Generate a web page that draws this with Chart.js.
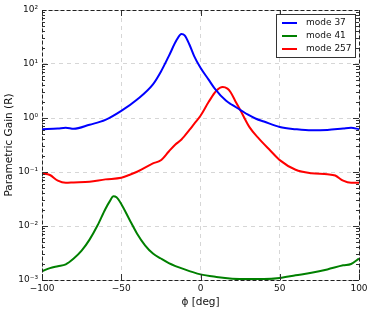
<!DOCTYPE html>
<html>
<head>
<meta charset="utf-8">
<script src="https://cdn.jsdelivr.net/npm/chart.js@4"></script>
<style>
  html, body { margin: 0; padding: 0; background: #fff; }
  #wrap { width: 374px; height: 314px; }
</style>
</head>
<body>
<div id="wrap"><canvas id="gain-chart" width="374" height="314"></canvas></div>
<script>
// valores
const seriesLabels = ['mode 37', 'mode 41', 'mode 257'];
const seriesColors = ['#0000ff', '#008000', '#ff0000'];

const angles37 = [-100, -90, -85, -80, -70, -60, -50, -40, -30, -25, -20, -15, -12, -10, -7, -4, 0, 5, 9, 16, 20, 25, 30, 35, 40, 50, 60, 70, 80, 90, 95, 100];
const gain37 = [0.62, 0.64, 0.66, 0.63, 0.75, 0.92, 1.35, 2.2, 4.2, 7.2, 14, 28, 36, 34, 23, 14, 8.5, 5.2, 3.5, 2.1, 1.75, 1.42, 1.15, 0.97, 0.86, 0.68, 0.62, 0.59, 0.60, 0.64, 0.66, 0.62];

const angles41 = [-100, -95, -90, -85, -80, -75, -70, -65, -60, -57, -55, -53, -50, -45, -40, -35, -30, -25, -20, -10, 0, 10, 20, 30, 40, 50, 60, 70, 80, 90, 95, 100];
const gain41 = [0.00145, 0.00166, 0.0018, 0.00195, 0.0025, 0.0035, 0.0056, 0.0102, 0.0207, 0.0295, 0.0355, 0.034, 0.0256, 0.0135, 0.0072, 0.0044, 0.0031, 0.0025, 0.00206, 0.00157, 0.00127, 0.00114, 0.00106, 0.00104, 0.00104, 0.00109, 0.00122, 0.00136, 0.00157, 0.00187, 0.00198, 0.0025];

const angles257 = [-100, -95, -90, -85, -80, -70, -60, -50, -45, -40, -30, -25, -20, -16, -12, -7, -4, 0, 5, 10, 14, 17, 19, 22, 25, 31, 37, 44, 50, 60, 70, 80, 85, 90, 95, 100];
const gain257 = [0.094, 0.088, 0.069, 0.063, 0.064, 0.066, 0.073, 0.078, 0.088, 0.101, 0.144, 0.165, 0.24, 0.32, 0.40, 0.60, 0.78, 1.1, 1.95, 3.2, 3.76, 3.5, 3.0, 2.05, 1.42, 0.67, 0.41, 0.25, 0.166, 0.110, 0.095, 0.091, 0.086, 0.069, 0.063, 0.063];

const xTicks = [-100, -50, 0, 50, 100];
const xTickLabels = ['\u2212100', '\u221250', '0', '50', '100'];
const yTicks = [1e-3, 1e-2, 1e-1, 1, 10, 100];
const yTickLabels = ['10\u207b\u00b3', '10\u207b\u00b2', '10\u207b\u00b9', '10\u2070', '10\u00b9', '10\u00b2'];

const toPoints = (xs, ys) => xs.map((x, i) => ({ x: x, y: ys[i] }));

// marco discontinuo, marcas interiores y leyenda con caja
const framePlugin = {
  id: 'frame',
  afterDatasetsDraw(chart) {
    const ctx = chart.ctx;
    const a = chart.chartArea;
    const ys = chart.scales.y;
    const xs = chart.scales.x;
    ctx.save();
    ctx.strokeStyle = '#333';
    ctx.lineWidth = 1;
    // marcas menores
    for (let d = -3; d < 2; d++) {
      for (let k = 1; k <= 9; k++) {
        const py = Math.round(ys.getPixelForValue(k * Math.pow(10, d))) + 0.5;
        const len = k === 1 ? 6 : 3;
        ctx.beginPath();
        ctx.moveTo(a.left, py); ctx.lineTo(a.left + len, py);
        ctx.moveTo(a.right, py); ctx.lineTo(a.right - len, py);
        ctx.stroke();
      }
    }
    xTicks.forEach(v => {
      const px = Math.round(xs.getPixelForValue(v)) + 0.5;
      ctx.beginPath();
      ctx.moveTo(px, a.bottom); ctx.lineTo(px, a.bottom - 6);
      ctx.moveTo(px, a.top); ctx.lineTo(px, a.top + 6);
      ctx.stroke();
    });
    ctx.setLineDash([4, 2]);
    ctx.strokeStyle = '#222';
    ctx.strokeRect(Math.round(a.left) + 0.5, Math.round(a.top) + 0.5,
      Math.round(a.right - a.left), Math.round(a.bottom - a.top));
    ctx.setLineDash([]);

    // leyenda
    const bx = a.right - 83, by = a.top + 4, bw = 79, bh = 43;
    ctx.fillStyle = '#fff';
    ctx.fillRect(bx, by, bw, bh);
    ctx.strokeStyle = '#333';
    ctx.strokeRect(bx + 0.5, by + 0.5, bw, bh);
    ctx.font = '9px "DejaVu Sans"';
    ctx.textBaseline = 'middle';
    ctx.textAlign = 'left';
    chart.data.datasets.forEach((ds, i) => {
      const ly = by + 9 + i * 13;
      ctx.strokeStyle = ds.borderColor;
      ctx.lineWidth = 2;
      ctx.beginPath();
      ctx.moveTo(bx + 6, ly); ctx.lineTo(bx + 21, ly);
      ctx.stroke();
      ctx.fillStyle = '#111';
      ctx.fillText(ds.label, bx + 30, ly);
    });
    ctx.restore();
  }
};

const chartConfig = {
  type: 'line',
  data: {
    datasets: [
      { label: seriesLabels[0], data: toPoints(angles37, gain37) },
      { label: seriesLabels[1], data: toPoints(angles41, gain41) },
      { label: seriesLabels[2], data: toPoints(angles257, gain257) }
    ].map((ds, i) => Object.assign(ds, {
      borderColor: seriesColors[i],
      backgroundColor: seriesColors[i],
      borderWidth: 2,
      pointRadius: 0,
      fill: false,
      cubicInterpolationMode: 'monotone'
    }))
  },
  options: {
    responsive: false,
    animation: false,
    layout: { padding: { left: 0, right: 15, top: 10, bottom: 0 } },
    plugins: {
      legend: { display: false },
      tooltip: { enabled: false }
    },
    scales: {
      x: {
        type: 'linear',
        min: -100,
        max: 100,
        afterBuildTicks: scale => { scale.ticks = xTicks.map(v => ({ value: v })); },
        afterFit: scale => { scale.height = 34; },
        ticks: {
          color: '#111',
          font: { family: 'DejaVu Sans', size: 9 },
          padding: 3,
          maxRotation: 0,
          callback: (v) => xTickLabels[xTicks.indexOf(v)]
        },
        grid: {
          color: '#d6d6d6',
          drawTicks: false,
          tickLength: 0
        },
        border: { display: true, color: 'rgba(0,0,0,0)', dash: [4, 4] },
        title: {
          display: true,
          text: '\u03d5 [deg]',
          color: '#111',
          font: { family: 'DejaVu Sans', size: 10.5 },
          padding: { top: 0, bottom: 5 }
        }
      },
      y: {
        type: 'logarithmic',
        min: 1e-3,
        max: 100,
        afterBuildTicks: scale => { scale.ticks = yTicks.map(v => ({ value: v })); },
        afterFit: scale => { scale.width = 42; },
        ticks: {
          color: '#111',
          font: { family: 'DejaVu Sans', size: 9 },
          padding: 4,
          callback: (v) => yTickLabels[yTicks.indexOf(v)]
        },
        grid: {
          color: '#d6d6d6',
          drawTicks: false,
          tickLength: 0
        },
        border: { display: true, color: 'rgba(0,0,0,0)', dash: [4, 4] },
        title: {
          display: true,
          text: 'Parametric Gain (R)',
          color: '#111',
          font: { family: 'DejaVu Sans', size: 10.5 },
          padding: { top: 3, bottom: 0 }
        }
      }
    }
  },
  plugins: [framePlugin]
};

const gainChart = new Chart('gain-chart', chartConfig);
</script>
</body>
</html>
